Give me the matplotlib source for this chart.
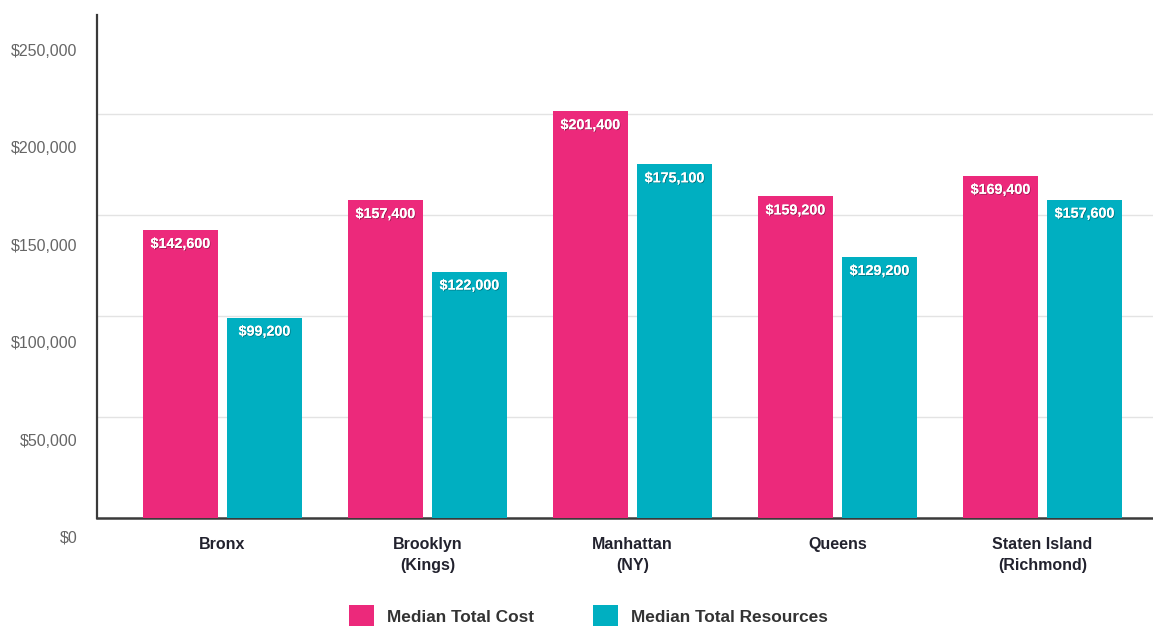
import matplotlib
matplotlib.use("Agg")
import matplotlib.pyplot as plt
import matplotlib.patheffects as pe
from matplotlib.patches import Patch
import numpy as np

categories = ["Bronx", "Brooklyn\n(Kings)", "Manhattan\n(NY)", "Queens", "Staten Island\n(Richmond)"]
median_total_cost = [142600, 157400, 201400, 159200, 169400]
median_total_resources = [99200, 122000, 175100, 129200, 157600]
series_names = ["Median Total Cost", "Median Total Resources"]
y_ticks = [0, 50000, 100000, 150000, 200000, 250000]
y_tick_labels = ["$0", "$50,000", "$100,000", "$150,000", "$200,000", "$250,000"]

PINK = "#EC297B"
TEAL = "#00AFC1"
plt.rcParams['font.family'] = ['Liberation Sans', 'DejaVu Sans']

W, H = 1153, 626
fig = plt.figure(figsize=(W / 100, H / 100), dpi=100)

# main axes
ax = fig.add_axes([97 / W, (H - 518) / H, (1153 - 97) / W, (518 - 15) / H])
ax.set_xlim(-0.612, 4.539)
ax.set_ylim(0, 249000)

x = np.arange(len(categories))
bw = 0.366
off = 0.205
b1 = ax.bar(x - off, median_total_cost, width=bw, color=PINK, zorder=3)
b2 = ax.bar(x + off, median_total_resources, width=bw, color=TEAL, zorder=3)

shadow = [pe.withSimplePatchShadow(offset=(0.6, -0.6), shadow_rgbFace="black", alpha=0.35), pe.Normal()]
for bars, vals in ((b1, median_total_cost), (b2, median_total_resources)):
    for rect, v in zip(bars, vals):
        ax.annotate(f"${v:,}", (rect.get_x() + rect.get_width() / 2, v),
                    xytext=(0, -14), textcoords="offset pixels",
                    ha="center", va="center", color="white", fontsize=10.3,
                    fontweight="bold", zorder=5, path_effects=shadow)

ax.set_yticks(y_ticks[1:-1])
ax.tick_params(axis="y", length=0, labelleft=False)
ax.grid(axis="y", color="#e3e3e3", linewidth=1, zorder=0)
ax.set_xticks(x)
ax.set_xticklabels(categories, fontsize=11.5, fontweight="bold", color="#22222e", linespacing=1.45)
ax.tick_params(axis="x", length=0, pad=14)
for s in ("top", "right"):
    ax.spines[s].set_visible(False)
ax.spines["left"].set_color("#3a3a3a")
ax.spines["left"].set_linewidth(1.6)
ax.spines["bottom"].set_color("#3a3a3a")
ax.spines["bottom"].set_linewidth(1.8)

# y tick labels axis (labels sit on their own scale)
ax2 = fig.add_axes([97 / W, (H - 537) / H, (1153 - 97) / W, (537 - 50) / H])
ax2.set_ylim(0, 250000)
ax2.set_yticks(y_ticks)
ax2.set_yticklabels(y_tick_labels, fontsize=11.5, color="#666666")
ax2.tick_params(axis="y", length=0, pad=14)
ax2.set_xticks([])
ax2.patch.set_visible(False)
for s in ax2.spines.values():
    s.set_visible(False)

handles = [Patch(facecolor=PINK, edgecolor="none"), Patch(facecolor=TEAL, edgecolor="none")]
leg = fig.legend(handles, series_names, loc="center", bbox_to_anchor=(588.5 / W, 10 / H),
                 ncol=2, frameon=False, handlelength=1.45, handleheight=1.6,
                 handletextpad=0.75, columnspacing=3.4,
                 prop={"size": 12.4, "weight": "bold"})
for t in leg.get_texts():
    t.set_color("#333333")

fig.savefig("out.png", dpi=100)
